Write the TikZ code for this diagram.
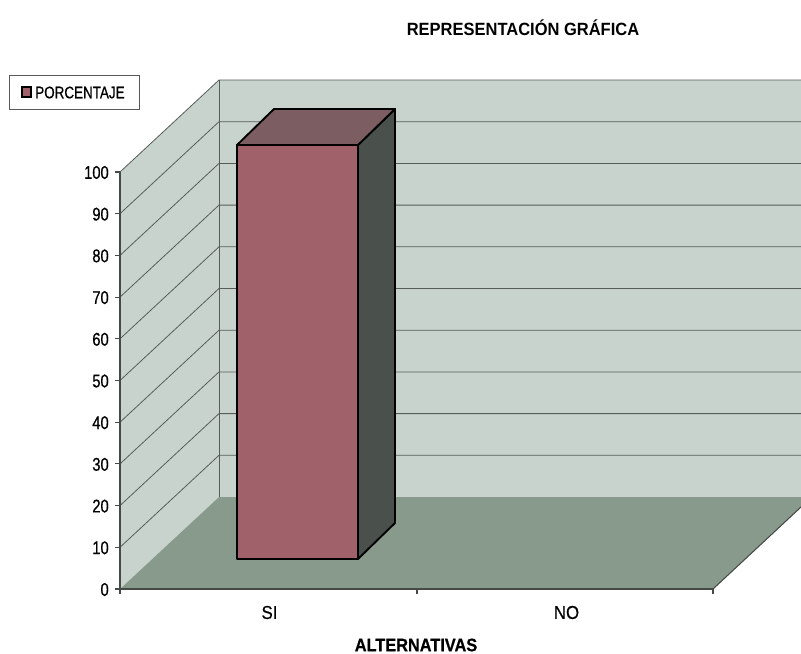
\documentclass[tikz,border=0pt]{standalone}
\usepackage{fontspec}
\setmainfont{Liberation Sans}[FakeStretch=0.9,FakeBold=0.6]
\newfontfamily\numfont{Liberation Sans}[FakeStretch=0.8,FakeBold=0.6]
\newfontfamily\titlefont{Liberation Sans}[FakeStretch=0.93]
\usepackage[dvipsnames]{xcolor}
\definecolor{wallc}{HTML}{C9D3CD}
\definecolor{floorc}{HTML}{889A8C}
\definecolor{barfront}{HTML}{A0616B}
\definecolor{bartop}{HTML}{7B5D62}
\definecolor{barside}{HTML}{4A504C}
\definecolor{gridc}{HTML}{575D59}

\begin{document}
\begin{tikzpicture}[x=0.75pt,y=-0.75pt,
  grid line/.style={gridc,line width=0.6pt},
  axis line/.style={gridc!80!black,line width=0.8pt},
  bar face/.style={draw=black,line width=1.4pt,line join=round},
  tick label/.style={anchor=east,inner sep=0pt,font=\numfont\fontsize{13.8}{13.8}\selectfont},
  cat label/.style={inner sep=0pt,font=\fontsize{14}{14}\selectfont},
  main label/.style={inner sep=0pt,font=\titlefont\bfseries\fontsize{13.3}{13.3}\selectfont}]

            \useasboundingbox (0,0) rectangle (801,654);

            % walls and floor
            \fill[wallc] (120,589) -- (120,172) -- (219,80) -- (219,497) -- cycle;
            \fill[wallc] (219,80) rectangle (801,497);
            \fill[floorc] (120,589) -- (713,589) -- (801,507) -- (801,497) -- (219,497) -- cycle;
            \draw[axis line] (713,589) -- (801,507);

            % grid
            \foreach \k in {1,...,10}
              \draw[grid line] (120,589-41.7*\k) -- (219,497-41.7*\k) -- (801,497-41.7*\k);
            \draw[grid line] (219,80) -- (219,497);

            % axes
            \draw[axis line] (120,172) -- (120,589) -- (713,589);
            \foreach \k in {0,...,10}{
              \draw[axis line] (115,589-41.7*\k) -- (120,589-41.7*\k);
              \pgfmathtruncatemacro{\val}{10*\k}
              \node[tick label] (y\k) at (109,589.5-41.7*\k) {\val};
            }
            \foreach \xx in {120,417,713}
              \draw[axis line] (\xx,589) -- (\xx,594);

            % bar
            \draw[bar face,fill=barside] (358,145) -- (395,109) -- (395,523) -- (358,559) -- cycle;
            \draw[bar face,fill=bartop] (237,145) -- (274,109) -- (395,109) -- (358,145) -- cycle;
            \draw[bar face,fill=barfront] (237,145) rectangle (358,559);

            % texts
            \node[main label] (title) at (523,28) {REPRESENTACIÓN GRÁFICA};
            \node[cat label] (si) at (269.5,612.5) {SI};
            \node[cat label] (no) at (566.5,612.5) {NO};
            \node[main label,font=\bfseries\fontsize{13.6}{13.6}\selectfont] (xtitle) at (416,645) {ALTERNATIVAS};

            % legend
            \draw[gray!70!black,line width=0.6pt] (9,75) rectangle (139,109);
            \draw[black,fill=barfront,line width=0.8pt] (22,87) rectangle (31,97);
            \node[anchor=west,inner sep=0pt,font=\numfont\fontsize{12.6}{12.6}\selectfont] (legend) at (35,92.5) {PORCENTAJE};

        \end{tikzpicture}
\end{document}
